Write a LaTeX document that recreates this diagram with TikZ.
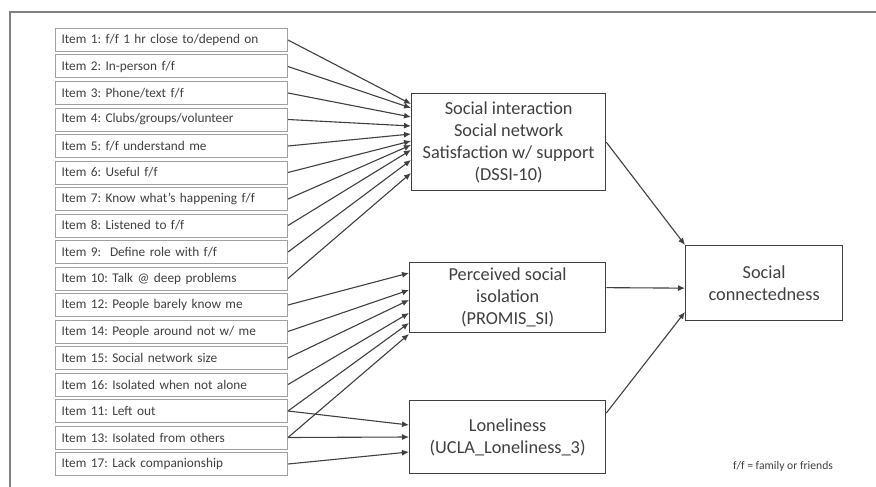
\documentclass[tikz,border=0pt]{standalone}
\usepackage{fontspec}
\setmainfont{Carlito}
\usetikzlibrary{arrows.meta}
\definecolor{txt}{HTML}{404040}
\definecolor{itemline}{HTML}{A0A0A0}
\definecolor{frameline}{HTML}{808080}
\newlength\mywa
\newlength\mywb
\newlength\mywc
\begin{document}
\frenchspacing
\settowidth\mywa{\fontsize{10}{12}\selectfont Item 1: f/f 1 hr close to/depend on}
\settowidth\mywb{\fontsize{10}{12}\selectfont Satisfaction w/ support}
\settowidth\mywc{\fontsize{10}{12}\selectfont f/f = family or friends}
\pgfmathsetmacro\itemfs{10*187/\mywa}
\pgfmathsetmacro\itembs{1.2*\itemfs}
\pgfmathsetmacro\mainfs{10*172/\mywb}
\pgfmathsetmacro\mainbs{1.2*\mainfs}
\pgfmathsetmacro\notefs{10*100/\mywc}
\begin{tikzpicture}[x=1pt,y=-1pt,
 itembox/.style={draw=itemline, line width=1pt, anchor=north west, text width=220pt, inner xsep=6pt, inner ysep=0pt, minimum height=23pt, align=left, font=\fontsize{\itemfs}{\itembs}\selectfont, text=txt},
 mainbox/.style={draw=txt, line width=1.3pt, anchor=north west, inner sep=0pt, align=center, font=\fontsize{\mainfs}{\mainbs}\selectfont, text=txt},
 arr/.style={draw=txt, line width=1.1pt, -{Latex[length=7pt,width=6pt]}}]
\useasboundingbox (0,0) rectangle (876,487);
\fill[white] (0,0) rectangle (876,487);
\draw[frameline, line width=2pt] (10,487) -- (10,12) -- (876,12);

\node[itembox] (i1)  at (55,28)    {Item 1: f/f 1 hr close to/depend on};
\node[itembox] (i2)  at (55,54.5)  {Item 2: In-person f/f};
\node[itembox] (i3)  at (55,81)    {Item 3: Phone/text f/f};
\node[itembox] (i4)  at (55,107.5) {Item 4: Clubs/groups/volunteer};
\node[itembox] (i5)  at (55,134)   {Item 5: f/f understand me};
\node[itembox] (i6)  at (55,160.5) {Item 6: Useful f/f};
\node[itembox] (i7)  at (55,187)   {Item 7: Know what’s happening f/f};
\node[itembox] (i8)  at (55,213.5) {Item 8: Listened to f/f};
\node[itembox] (i9)  at (55,240)   {Item 9: \ Define role with f/f};
\node[itembox] (i10) at (55,266.5) {Item 10: Talk @ deep problems};
\node[itembox] (i12) at (55,293)   {Item 12: People barely know me};
\node[itembox] (i14) at (55,319.5) {Item 14: People around not w/ me};
\node[itembox] (i15) at (55,346)   {Item 15: Social network size};
\node[itembox] (i16) at (55,372.5) {Item 16: Isolated when not alone};
\node[itembox] (i11) at (55,399)   {Item 11: Left out};
\node[itembox] (i13) at (55,425.5) {Item 13: Isolated from others};
\node[itembox] (i17) at (55,452)   {Item 17: Lack companionship};

\node[mainbox, minimum width=194pt, minimum height=97pt] (dssi) at (411,93)
  {Social interaction\\Social network\\Satisfaction w/ support\\(DSSI-10)};
\node[mainbox, minimum width=196pt, minimum height=70pt] (promis) at (409,262)
  {Perceived social\\isolation\\(PROMIS\_SI)};
\node[mainbox, minimum width=196pt, minimum height=73pt] (lon) at (409,400)
  {Loneliness\\(UCLA\_Loneliness\_3)};
\node[mainbox, minimum width=157pt, minimum height=75pt] (sc) at (685,245)
  {Social\\connectedness};

\node[text=txt, font=\fontsize{\notefs}{13}\selectfont] (note) at (783,466) {f/f = family or friends};

% DSSI inputs
\draw[arr] (i1.east)  -- ([yshift=-11pt]dssi.north west);
\draw[arr] (i2.east)  -- ([yshift=-15pt]dssi.north west);
\draw[arr] (i3.east)  -- ([yshift=-24pt]dssi.north west);
\draw[arr] (i4.east)  -- ([yshift=-33pt]dssi.north west);
\draw[arr] (i5.east)  -- ([yshift=-41pt]dssi.north west);
\draw[arr] (i6.east)  -- ([yshift=-48pt]dssi.north west);
\draw[arr] (i7.east)  -- ([yshift=-52pt]dssi.north west);
\draw[arr] (i8.east)  -- ([yshift=-57pt]dssi.north west);
\draw[arr] (i9.east)  -- ([yshift=-67pt]dssi.north west);
\draw[arr] (i10.east) -- ([yshift=-80pt]dssi.north west);
% PROMIS inputs
\draw[arr] (i12.east) -- ([yshift=-11pt]promis.north west);
\draw[arr] (i14.east) -- ([yshift=-28pt]promis.north west);
\draw[arr] (i15.east) -- ([yshift=-38pt]promis.north west);
\draw[arr] (i16.east) -- ([yshift=-51pt]promis.north west);
\draw[arr] (i11.east) -- ([yshift=-61pt]promis.north west);
\draw[arr] (i13.east) -- ([yshift=-72pt]promis.north west);
% Loneliness inputs
\draw[arr] (i11.east) -- ([yshift=-25pt]lon.north west);
\draw[arr] (i13.east) -- ([yshift=-37pt]lon.north west);
\draw[arr] (i17.east) -- ([yshift=-52pt]lon.north west);
% outputs
\draw[arr] (dssi.east) -- (sc.north west);
\draw[arr] ([yshift=10pt]promis.east) -- ([yshift=-5pt]sc.west);
\draw[arr] ([yshift=-13pt]lon.north east) -- ([yshift=-67pt]sc.north west);
\end{tikzpicture}
\end{document}
